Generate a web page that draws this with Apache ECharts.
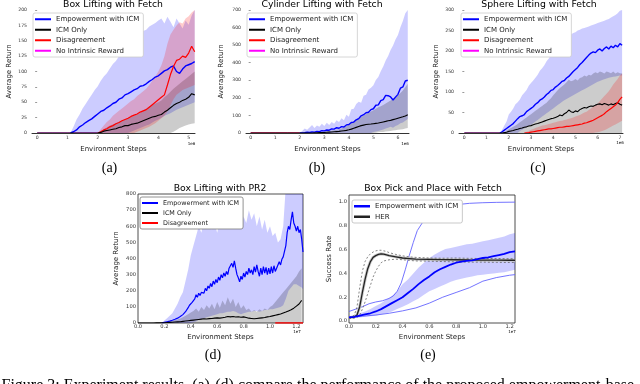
<!DOCTYPE html>
<html><head><meta charset="utf-8">
<script src="https://cdn.jsdelivr.net/npm/echarts@6/dist/echarts.min.js"></script>
<style>html,body{margin:0;padding:0;background:#fff}#c{width:640px;height:384px}</style>
</head><body><div id="c"></div>
<script>
// ---------- (a) Box Lifting with Fetch  (x in 1e6 steps, sampled every 0.1) ----------
const aEmpX0 = 1.1;
const aEmp   = [0,2,5,10,13,17,20,23,27,31,35,37,41,44,48,50,55,57,62,64,67,70,72,76,77,80,84,87,91,93,97,101,103,107,109,100,97,104,109,111,113,116];
const aEmpHi = [0,10,22,30,40,47,55,62,70,76,85,92,97,105,112,117,125,129,137,141,148,151,156,160,166,168,173,176,179,183,186,178,189,181,172,186,178,170,183,176,191,200];
const aEmpLo = [0,0,0,0,0,0,0,0,0,0,0,0,0,0,0,0,0,0,0,0,2,4,6,8,10,12,14,17,20,22,25,28,30,32,35,38,40,42,44,46,48,50];
const aIcmX0 = 2.0;
const aIcm   = [0,1,3,4,5,6,7,9,10,12,12,14,15,16,18,20,22,24,26,27,29,30,34,37,41,45,48,50,53,55,58,64,62];
const aIcmHi = [0,3,6,9,12,14,16,18,20,22,24,26,28,30,33,36,40,43,46,48,50,53,58,62,67,72,76,80,84,88,92,96,100];
const aIcmLo = [0,0,0,0,0,0,0,0,0,0,0,0,0,0,0,0,0,0,0,0,0,0,0,0,0,2,5,8,10,12,14,15,16];
const aDisX0 = 2.0;
const aDis   = [0,2,5,7,10,12,15,17,20,22,24,27,29,31,34,36,38,42,46,50,54,58,62,78,95,108,118,120,125,123,130,141,132];
const aDisHi = [0,6,12,18,22,28,32,36,40,44,48,52,55,60,64,68,72,78,85,92,100,110,125,145,160,168,175,180,178,186,190,196,200];
const aDisLo = [0,0,0,0,0,0,0,0,0,0,0,0,0,2,4,6,8,10,13,16,20,24,28,35,45,55,62,66,70,72,74,76,78];
const aNoX = [0,0.5,1.0,1.5,2.0];     // flat at 0, hidden under the other curves
const aNo  = [0,0,0,0,0];

// ---------- (b) Cylinder Lifting with Fetch ----------
const bEmpX0 = 2.0;
const bEmp   = [0,1,2,4,3,6,5,9,8,13,12,17,16,23,22,30,27,36,34,46,48,60,62,75,82,98,104,115,118,133,138,158,160,184,190,214,212,205,188,204,220,255,262,296,300];
const bEmpHi = [0,12,25,18,32,45,28,42,35,52,40,58,46,62,52,72,62,84,72,104,92,135,138,165,178,172,212,218,248,258,272,302,318,352,378,412,438,472,498,532,558,602,638,682,700];
const bEmpLo = [0,0,0,0,0,0,0,0,0,0,0,0,0,0,0,0,0,0,0,0,0,0,0,0,0,0,0,0,0,0,5,8,12,15,20,25,30,35,30,40,45,55,60,70,80];
const bIcmX0 = 2.5;
const bIcm   = [0,1,1,2,3,3,4,5,6,7,8,9,11,13,15,18,22,27,32,37,42,45,48,50,51,53,55,57,60,63,66,70,72,76,80,84,88,92,97,104];
const bIcmHi = [0,2,4,5,6,8,10,12,14,16,18,22,26,32,40,48,58,68,78,86,92,100,108,115,122,130,138,146,152,160,168,176,185,195,205,215,228,242,260,280];
const bIcmLo = [0,0,0,0,0,0,0,0,0,0,0,0,0,0,0,0,0,0,0,0,0,0,0,0,0,0,2,4,5,6,8,10,12,14,16,18,20,22,25,28];
const bZeroX = [0,0.5,1.0,1.5,2.0];
const bDis = [0,0,0,0,0];
const bNo  = [0,0,0,0,0];

// ---------- (c) Sphere Lifting with Fetch ----------
const cEmpX0 = 1.6;
const cEmp   = [0,3,7,11,15,19,23,29,35,40,42,45,52,56,60,64,70,74,80,83,88,94,98,104,106,112,116,121,126,128,134,138,144,150,155,160,167,172,178,184,190,195,198,196,202,205,200,206,210,205,212,208,214,210,218,214];
const cEmpHi = [0,8,18,28,45,52,60,70,75,82,92,98,105,115,122,128,135,142,152,158,165,175,182,190,196,202,210,218,222,228,232,236,240,244,246,250,252,255,256,258,260,262,264,266,268,270,272,274,276,278,282,285,288,292,298,300];
const cEmpLo = [0,0,0,0,0,0,0,0,0,5,8,11,14,17,20,24,28,32,36,40,44,48,52,56,60,64,68,72,76,80,83,86,89,92,95,98,101,104,107,110,113,116,119,122,125,127,129,131,133,135,136,137,138,139,140,140];
const cIcmX0 = 1.7;
const cIcm   = [0,1,2,4,5,6,8,9,11,12,14,15,17,18,20,22,23,25,27,29,31,33,35,36,38,40,44,42,47,50,56,52,50,54,52,57,60,62,61,64,66,65,68,70,71,69,72,70,68,71,69,72,74,70,68];
const cIcmHi = [0,3,6,9,12,15,18,22,26,30,34,38,42,46,50,54,58,62,66,70,74,80,85,92,98,104,110,114,118,124,130,126,128,132,128,134,136,140,138,142,140,145,148,146,150,148,145,150,148,146,150,145,148,146,145];
const cIcmLo = [0,0,0,0,0,0,0,0,0,0,0,0,0,0,0,0,0,0,0,0,0,0,0,0,0,0,0,0,0,0,0,0,0,0,0,0,0,0,0,0,0,0,0,0,0,0,0,0,0,0,0,0,0,0,0];
const cDisX0 = 2.7;
const cDis   = [0,0.5,1,2,3,4,5,6,7,8,9,10,10,11,12,13,14,14,15,16,16,17,18,19,20,21,22,24,25,27,29,31,34,37,40,43,47,52,56,60,64,68,74,82,88];
const cDisHi = [0,3,5,8,10,12,14,16,18,19,20,22,23,25,26,28,29,30,32,33,35,36,38,40,42,44,47,50,52,56,60,64,68,72,78,84,90,96,102,110,118,125,132,140,145];
const cDisLo = [0,0,0,0,0,0,0,0,0,0,0,0,0,0,0,0,0,0,0,0,0,0,0,0,0,0,0,0,0,0,0,0,1,2,3,5,7,9,12,15,18,21,24,27,30];
const cZeroX = [0,0.4,0.8,1.2,1.6];
const cNo = [0,0,0,0,0];

// ---------- (d) Box Lifting with PR2  (x in 1e7 steps) ----------
const dEmpX0 = 0.18; // every 0.01
const dEmp = [0,2,4,6,8,10,12,14,17,20, 23,26,30,35,40,45,52,60,70,82, 95,110,120,128,135,150,175,160,185,170,
  190,200,185,215,200,230,215,245,225,260, 240,270,250,285,265,300,280,310,290,320, 300,340,330,370,345,385,340,300,280,255,
  290,270,310,285,320,300,340,310,330,300, 350,315,360,320,290,340,300,350,310,345, 300,340,305,350,310,355,320,340,330,380,
  360,395,410,420,480,560,600,580,640,690, 620,600,570,600,560,580,520,440];
const dEmpBandX0 = 0.18; // every 0.02
const dEmpHi = [0,15,30,45,60,90,120,160,190,260,330,420,480,540,600,560,640,600,660,580,620,560,640,600,680,640,720,700,740,620,580,660,620,700,640,680,600,660,580,640,560,600,540,560,500,520,600,850,900,900,900,900,900,880,800];
const dEmpLo = [0,0,0,0,0,0,0,0,0,0,0,0,5,10,20,25,30,35,40,45,50,55,60,60,65,70,70,75,70,60,55,60,65,70,70,75,75,70,75,80,80,85,85,90,95,100,110,150,200,220,240,240,230,220,200];
const dIcmX0 = 0.10; // every 0.02
const dIcm   = [0,0,1,1,2,2,3,4,5,6,7,8,10,12,14,16,18,20,22,24,26,25,27,28,30,32,30,33,36,40,38,40,37,39,36,38,34,30,28,26,28,30,32,34,38,40,44,48,52,56,62,68,75,82,92,105,118,140];
const dIcmHi = [0,1,2,3,4,6,8,10,14,18,22,28,35,45,55,65,75,90,70,100,80,110,90,120,85,130,95,140,110,160,120,150,100,130,90,110,80,90,70,80,70,85,75,90,80,100,110,130,150,170,190,210,230,250,270,290,320,340];
const dIcmLo = [0,0,0,0,0,0,0,0,0,0,0,0,0,0,0,0,0,0,0,0,0,0,0,0,0,0,0,0,0,0,0,0,0,0,0,0,0,0,0,0,0,0,0,0,0,0,0,0,0,0,0,0,0,0,0,0,0,0];
const dDisX = [1.04,1.07,1.10,1.13,1.16,1.19,1.22,1.25];
const dDis  = [0,0,0,0,0,0,0,0];

// ---------- (e) Box Pick and Place with Fetch ----------
const eHerX  = [0,0.02,0.04,0.06,0.08,0.10,0.12,0.14,0.16,0.18,0.20,0.22,0.24,0.26,0.28,0.30,0.35,0.40,0.45,0.50,0.60,0.70,0.80,0.90,1.00,1.10,1.20,1.24];
const eHer   = [0.03,0.03,0.035,0.05,0.12,0.24,0.35,0.44,0.50,0.535,0.55,0.56,0.565,0.562,0.556,0.55,0.54,0.53,0.525,0.52,0.518,0.516,0.515,0.513,0.512,0.512,0.511,0.511];
const eHerHi = [0.03,0.035,0.05,0.12,0.28,0.42,0.50,0.54,0.565,0.58,0.59,0.595,0.595,0.59,0.585,0.575,0.56,0.548,0.54,0.535,0.53,0.528,0.53,0.527,0.525,0.526,0.524,0.524];
const eHerLo = [0.02,0.022,0.025,0.03,0.05,0.10,0.16,0.23,0.30,0.37,0.42,0.46,0.49,0.505,0.51,0.515,0.52,0.515,0.51,0.505,0.503,0.50,0.497,0.495,0.495,0.493,0.492,0.492];
const eEmpX  = [0,0.04,0.08,0.12,0.16,0.20,0.24,0.28,0.32,0.36,0.40,0.44,0.48,0.52,0.56,0.60,0.64,0.68,0.72,0.76,0.80,0.84,0.88,0.92,0.96,1.00,1.04,1.08,1.12,1.16,1.20,1.24];
const eEmp   = [0.03,0.035,0.045,0.055,0.065,0.08,0.10,0.125,0.15,0.175,0.20,0.235,0.27,0.31,0.345,0.375,0.41,0.435,0.455,0.475,0.49,0.50,0.505,0.51,0.52,0.53,0.535,0.545,0.555,0.565,0.58,0.585];
const eEmpHi = [0.04,0.05,0.065,0.08,0.10,0.125,0.15,0.18,0.21,0.25,0.31,0.35,0.40,0.45,0.49,0.53,0.56,0.585,0.605,0.615,0.625,0.635,0.645,0.65,0.66,0.67,0.68,0.69,0.70,0.71,0.73,0.74];
const eEmpLo = [0.02,0.025,0.03,0.035,0.04,0.045,0.055,0.065,0.08,0.10,0.12,0.14,0.165,0.19,0.22,0.25,0.27,0.29,0.31,0.33,0.345,0.355,0.365,0.375,0.385,0.39,0.395,0.40,0.405,0.41,0.42,0.43];
const eSeed1X = [0,0.05,0.1,0.15,0.2,0.25,0.3,0.33,0.36,0.39,0.42,0.45,0.48,0.51,0.55,0.6,0.65,0.7,0.8,0.9,1.0,1.1,1.24];
const eSeed1  = [0.08,0.1,0.12,0.145,0.16,0.17,0.19,0.21,0.25,0.32,0.43,0.55,0.66,0.76,0.83,0.885,0.93,0.955,0.978,0.99,0.995,0.998,1.0];
const eSeed2X = [0,0.1,0.2,0.3,0.4,0.5,0.6,0.7,0.8,0.9,1.0,1.1,1.2,1.24];
const eSeed2  = [0.03,0.04,0.05,0.065,0.085,0.11,0.15,0.2,0.24,0.28,0.335,0.365,0.385,0.39];

// ICM-only return is 0 from step 0 until its curve starts (drawn along the bottom)
const icmStartX = 0, icmStartY = 0;

// tick labels
const aTicks = [0,1,2,3,4,5];
const bTicks = [0,1,2,3,4,5,6];
const cTicks = [0,1,2,3,4,5,6,7];
const eYTicks = [0,0.2,0.4,0.6,0.8,1.0];

// ---------- helpers ----------
const SANS = 'DejaVu Sans', SERIF = 'Liberation Serif';
const BLUE = '#0000ff', BLACK = '#000000', RED = '#ff0000', MAG = '#ff00ff';
const BLUE_F = 'rgba(0,0,255,0.2)', GRAY_F = 'rgba(0,0,0,0.2)', RED_F = 'rgba(255,0,0,0.2)';
function seq(x0, step, n) { const r = []; for (let i = 0; i < n; i++) r.push(+(x0 + i * step).toFixed(3)); return r; }
function line(g, name, xArr, ys, color, width, extra) {
  return Object.assign({
    type: 'line', name, xAxisIndex: g, yAxisIndex: g,
    data: xArr.map((x, i) => [x, ys[i]]),
    symbol: 'none', showSymbol: false, animation: false, z: 3,
    lineStyle: { color, width }, itemStyle: { color }
  }, extra || {});
}
function band(g, key, xArr, lo, hi, color) {
  return {
    type: 'custom', name: key, xAxisIndex: g, yAxisIndex: g, clip: true, z: 2, animation: false, silent: true,
    data: xArr.map((x, i) => [x, lo[i], hi[i]]),
    encode: { x: 0, y: [1, 2] },
    renderItem: function (params, api) {
      if (params.dataIndex !== 0) return null;
      const pts = [];
      for (let i = 0; i < xArr.length; i++) pts.push(api.coord([xArr[i], hi[i]]));
      for (let i = xArr.length - 1; i >= 0; i--) pts.push(api.coord([xArr[i], lo[i]]));
      return { type: 'polygon', shape: { points: pts }, style: { fill: color } };
    }
  };
}
const withStart = (xArr, ys) => [[icmStartX].concat(xArr), [icmStartY].concat(ys)];
const S = [];
// (a)
const aEX = seq(aEmpX0, 0.1, aEmp.length), aIX = seq(aIcmX0, 0.1, aIcm.length), aDX = seq(aDisX0, 0.1, aDis.length);
S.push(band(0, 'aE', aEX, aEmpLo, aEmpHi, BLUE_F), band(0, 'aI', aIX, aIcmLo, aIcmHi, GRAY_F), band(0, 'aD', aDX, aDisLo, aDisHi, RED_F));
S.push(line(0, 'No Intrinsic Reward', aNoX, aNo, MAG, 1), line(0, 'Empowerment with ICM', aEX, aEmp, BLUE, 1.4),
       line(0, 'Disagreement', aDX, aDis, RED, 1.2), line(0, 'ICM Only', ...withStart(aIX, aIcm), BLACK, 1.1));
// (b)
const bEX = seq(bEmpX0, 0.1, bEmp.length), bIX = seq(bIcmX0, 0.1, bIcm.length);
S.push(band(1, 'bE', bEX, bEmpLo, bEmpHi, BLUE_F), band(1, 'bI', bIX, bIcmLo, bIcmHi, GRAY_F));
S.push(line(1, 'No Intrinsic Reward', bZeroX, bNo, MAG, 1), line(1, 'Disagreement', bZeroX, bDis, RED, 1),
       line(1, 'Empowerment with ICM', bEX, bEmp, BLUE, 1.4), line(1, 'ICM Only', ...withStart(bIX, bIcm), BLACK, 1.1));
// (c)
const cEX = seq(cEmpX0, 0.1, cEmp.length), cIX = seq(cIcmX0, 0.1, cIcm.length), cDX = seq(cDisX0, 0.1, cDis.length);
S.push(band(2, 'cE', cEX, cEmpLo, cEmpHi, BLUE_F), band(2, 'cI', cIX, cIcmLo, cIcmHi, GRAY_F), band(2, 'cD', cDX, cDisLo, cDisHi, RED_F));
S.push(line(2, 'No Intrinsic Reward', cZeroX, cNo, MAG, 1), line(2, 'Empowerment with ICM', cEX, cEmp, BLUE, 1.4),
       line(2, 'ICM Only', ...withStart(cIX, cIcm), BLACK, 1.1), line(2, 'Disagreement', cDX, cDis, RED, 1.2));
// (d)
const dEX = seq(dEmpX0, 0.01, dEmp.length), dEBX = seq(dEmpBandX0, 0.02, dEmpHi.length), dIX = seq(dIcmX0, 0.02, dIcm.length);
S.push(band(3, 'dE', dEBX, dEmpLo, dEmpHi, BLUE_F), band(3, 'dI', dIX, dIcmLo, dIcmHi, GRAY_F));
S.push(line(3, 'Empowerment with ICM', dEX, dEmp, BLUE, 1.2), line(3, 'ICM Only', ...withStart(dIX, dIcm), BLACK, 1.1),
       line(3, 'Disagreement', dDisX, dDis, RED, 1.5));
// (e)
S.push(band(4, 'eE', eEmpX, eEmpLo, eEmpHi, BLUE_F));
S.push(line(4, 'seed1', eSeed1X, eSeed1, '#6464ff', 0.9), line(4, 'seed2', eSeed2X, eSeed2, '#6464ff', 0.9));
S.push(line(4, 'HER_halo', eHerX, eHer, '#c8c8c8', 3),
       line(4, 'HER_hi', eHerX, eHerHi, '#666', 0.8, { lineStyle: { color: '#666', width: 0.8, type: [2, 2] } }),
       line(4, 'HER_lo', eHerX, eHerLo, '#666', 0.8, { lineStyle: { color: '#666', width: 0.8, type: [2, 2] } }),
       line(4, 'HER', eHerX, eHer, '#222', 1.3));
S.push(line(4, 'Empowerment with ICM', eEmpX, eEmp, BLUE, 1.8));

const TXT = '#333';
function xAxis(g, min, max, extra) {
  return Object.assign({
    gridIndex: g, type: 'value', min, max, z: 10,
    axisLine: { show: true, lineStyle: { color: '#333', width: 1 } }, axisTick: { show: false }, splitLine: { show: false },
    axisLabel: { fontSize: 4.6, margin: 2, color: TXT, fontFamily: SANS },
    name: 'Environment Steps', nameLocation: 'middle', nameGap: 13,
    nameTextStyle: { fontSize: 7, color: '#222', fontFamily: SANS }
  }, extra);
}
function yAxis(g, min, max, interval, gap, extra) {
  return Object.assign({
    gridIndex: g, type: 'value', min, max, interval,
    axisLine: { show: false }, axisTick: { show: true, length: 2, lineStyle: { color: '#555', width: 0.6 } }, splitLine: { show: false },
    axisLabel: { fontSize: 4.6, margin: 5, color: TXT, fontFamily: SANS },
    name: 'Average Return', nameLocation: 'middle', nameGap: gap,
    nameTextStyle: { fontSize: 7, color: '#222', fontFamily: SANS }
  }, extra);
}
const fmt1 = v => v.toFixed(1);
const legBase = {
  orient: 'vertical', icon: 'rect', itemWidth: 16, itemHeight: 2, itemGap: 2, padding: [2, 4, 2, 2],
  backgroundColor: '#fff', borderColor: '#ccc', borderWidth: 0.8, borderRadius: 2, selectedMode: false, z: 20,
  itemStyle: { borderWidth: 0 }, textStyle: { fontSize: 7, lineHeight: 8.5, color: '#222', fontFamily: SANS }
};
const four = ['Empowerment with ICM', 'ICM Only', 'Disagreement', 'No Intrinsic Reward'];
function T(text, x, y, size, extra) {
  return { type: 'text', x, y, z: 30, style: Object.assign({ text, fill: '#000', font: size + 'px "' + SANS + '"', align: 'center', verticalAlign: 'middle' }, extra || {}) };
}
const serif14 = { font: '14px "' + SERIF + '"' };
const option = {
  animation: false,
  backgroundColor: '#fff',
  grid: [
    { left: 32, top: 10, width: 163, height: 123, outerBoundsMode: 'none' },
    { left: 246, top: 10, width: 163, height: 123, outerBoundsMode: 'none' },
    { left: 459, top: 10, width: 164, height: 123, outerBoundsMode: 'none' },
    { left: 138, top: 194, width: 165, height: 129, show: true, borderColor: '#222', borderWidth: 0.8, backgroundColor: 'transparent', outerBoundsMode: 'none' },
    { left: 349, top: 195, width: 166, height: 128, show: true, borderColor: '#222', borderWidth: 0.8, backgroundColor: 'transparent', outerBoundsMode: 'none' }
  ],
  xAxis: [
    xAxis(0, -0.17, 5.21, { axisLabel: { customValues: aTicks, fontSize: 4.6, margin: 2, color: TXT, fontFamily: SANS } }),
    xAxis(1, -0.19, 6.45, { axisLabel: { customValues: bTicks, fontSize: 4.6, margin: 2, color: TXT, fontFamily: SANS } }),
    xAxis(2, -0.24, 7.14, { axisLabel: { customValues: cTicks, fontSize: 4.6, margin: 2, color: TXT, fontFamily: SANS } }),
    xAxis(3, 0, 1.25, { interval: 0.2, z: 1, axisLine: { show: false }, nameGap: 11, axisLabel: { formatter: fmt1, fontSize: 5.2, margin: 1, color: TXT, fontFamily: SANS } }),
    xAxis(4, 0, 1.24, { interval: 0.2, z: 1, axisLine: { show: false }, nameGap: 11, axisLabel: { formatter: fmt1, fontSize: 5.2, margin: 1, color: TXT, fontFamily: SANS } })
  ],
  yAxis: [
    yAxis(0, 0, 200, 25, 19),
    yAxis(1, 0, 700, 100, 21),
    yAxis(2, 0, 300, 50, 19),
    yAxis(3, 0, 800, 100, 18, { axisTick: { show: false }, axisLabel: { fontSize: 5.2, margin: 2, color: TXT, fontFamily: SANS } }),
    yAxis(4, -0.017, 1.06, null, 16, { name: 'Success Rate', axisTick: { show: false },
      axisLabel: { customValues: eYTicks, formatter: fmt1, fontSize: 5.2, margin: 2, color: TXT, fontFamily: SANS } })
  ],
  legend: [
    Object.assign({}, legBase, { left: 33, top: 13, data: four }),
    Object.assign({}, legBase, { left: 247, top: 13, data: four }),
    Object.assign({}, legBase, { left: 461, top: 13, data: four }),
    Object.assign({}, legBase, { left: 140, top: 197, data: four.slice(0, 3), borderColor: '#777',
      textStyle: { fontSize: 6.4, lineHeight: 8, color: '#222', fontFamily: SANS } }),
    Object.assign({}, legBase, { left: 352, top: 200, data: ['Empowerment with ICM', 'HER'], borderColor: '#bbb', itemHeight: 2.5 })
  ],
  series: S,
  graphic: [
    T('Box Lifting with Fetch', 113, 4.3, 9.3),
    T('Cylinder Lifting with Fetch', 322, 4.3, 9.3),
    T('Sphere Lifting with Fetch', 539, 4.3, 9.3),
    T('Box Lifting with PR2', 220, 188.5, 9.3),
    T('Box Pick and Place with Fetch', 433, 189, 9.3),
    T('1e6', 191.5, 143.5, 4), T('1e6', 405, 143.5, 4), T('1e6', 620, 142.5, 4),
    T('1e7', 297, 331.5, 4), T('1e7', 512, 331.5, 4),
    T('(a)', 109.5, 168, 14, serif14),
    T('(b)', 317, 168, 14, serif14),
    T('(c)', 538, 168, 14, serif14),
    T('(d)', 213, 355, 14, serif14),
    T('(e)', 428, 355, 14, serif14),
    T('Figure 3: Experiment results. (a)-(d) compare the performance of the proposed empowerment-base', 1.5, 386, 16,
      { font: '16px "' + SERIF + '"', align: 'left' })
  ]
};
const chart = echarts.init(document.getElementById('c'), null, { renderer: 'canvas' });
chart.setOption(option);
</script></body></html>
